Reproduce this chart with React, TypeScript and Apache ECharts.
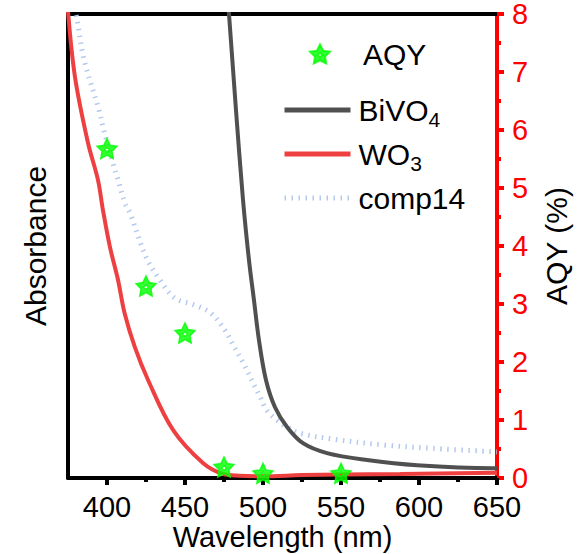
import React, { useEffect, useRef } from "react";
import * as echarts from "echarts";

// ---- Data ----
const bivoX = [477.5, 478.2, 482.7, 487.2, 491.0, 494.2, 497.4, 501.9, 507.7, 515.4, 525.6, 541.0, 566.7, 598.7, 647.4, 650];
const bivoY = [8.2, 8.0, 6.34, 4.79, 3.76, 3.07, 2.38, 1.69, 1.22, 0.88, 0.6, 0.43, 0.31, 0.22, 0.17, 0.17];

const wo3X = [375, 379.5, 387.8, 394.2, 397.4, 401.9, 407.1, 411.3, 417.8, 426.3, 442.3, 461.5, 474.4, 485, 500, 525, 550, 588, 650];
const wo3Y = [8.05, 6.91, 5.78, 5.14, 4.62, 3.98, 3.41, 2.84, 2.26, 1.69, 0.83, 0.26, 0.07, 0.04, 0.03, 0.05, 0.06, 0.07, 0.09];

const compX = [379, 380.8, 385.3, 394.9, 397.4, 403.8, 407.1, 411.5, 414.7, 425, 434, 443.6, 456.4, 466.7, 475.6, 481, 488.5, 494.9, 498.1, 502.4, 508.8, 515.2, 523.7, 545, 577, 609, 650];
const compY = [8.1, 7.9, 7.21, 6.34, 6.05, 5.43, 5.14, 4.74, 4.57, 3.81, 3.41, 3.1, 2.98, 2.84, 2.55, 2.29, 1.92, 1.57, 1.4, 1.17, 1.0, 0.88, 0.77, 0.67, 0.57, 0.51, 0.45];

const aqyX = [400, 425, 450, 475, 500, 550];
const aqyY = [5.68, 3.31, 2.5, 0.19, 0.08, 0.08];

const xMajorTicks = [400, 450, 500, 550, 600, 650];
const xMinorTicks = [425, 475, 525, 575, 625];

const FONT = "'Liberation Sans', Arial, sans-serif";

const STAR =
  "path://M0,-10L2.939,-4.045L9.511,-3.09L4.755,1.545L5.878,8.09L0,5L-5.878,8.09L-4.755,1.545L-9.511,-3.09L-2.939,-4.045Z" +
  "M0,-2.2L-2.2,0L0,2.2L2.2,0Z";

const pairs = (xs: number[], ys: number[]) => xs.map((x, i) => [x, ys[i]]);

export default function App() {
  const ref = useRef<HTMLDivElement>(null);
  useEffect(() => {
    document.body.style.margin = "0";
    if (!ref.current) return;
    const chart = echarts.init(ref.current, undefined, { renderer: "svg" });
    const legendText = {
      fontSize: 30,
      lineHeight: 44,
      color: "#000",
      fontFamily: FONT,
    };
    chart.setOption({
      animation: false,
      backgroundColor: "#fff",
      grid: { left: 68, right: 80, top: 14, bottom: 76, containLabel: false, outerBoundsMode: "none" },
      legend: [
        {
          data: ["AQY"],
          left: 309,
          top: 32,
          padding: 0,
          itemWidth: 20,
          itemHeight: 19,
          selectedMode: false,
          textStyle: { ...legendText, padding: [0, 0, 0, 28] },
        },
        {
          data: ["BiVO4", "WO3", "comp14"],
          orient: "vertical",
          left: 282,
          top: 88,
          padding: 0,
          itemWidth: 66,
          itemHeight: 14,
          itemGap: 0,
          selectedMode: false,
          itemStyle: { opacity: 0 },
          lineStyle: { width: 5 },
          formatter: (name: string) =>
            name === "BiVO4" ? "BiVO{s|4}" : name === "WO3" ? "WO{s|3}" : name,
          textStyle: {
            ...legendText,
            padding: [0, 0, 0, 3],
            rich: {
              s: {
                fontSize: 21,
                lineHeight: 21,
                verticalAlign: "top",
                padding: [21, 0, 0, 0],
                color: "#000",
                fontFamily: FONT,
              },
            },
          },
        },
      ],
      xAxis: [
        {
          type: "value",
          position: "bottom",
          min: 375,
          max: 650,
          interval: 25,
          name: "Wavelength (nm)",
          nameLocation: "middle",
          nameGap: 44,
          nameMoveOverlap: false,
          nameTextStyle: { fontSize: 29, lineHeight: 29, color: "#000", fontFamily: FONT },
          axisLine: { show: true, onZero: false, lineStyle: { color: "#000", width: 4 } },
          axisTick: { show: true, customValues: xMajorTicks, length: 7, lineStyle: { color: "#000", width: 4 } },
          axisLabel: { show: true, customValues: xMajorTicks, margin: 14, fontSize: 29, color: "#000", fontFamily: FONT },
          splitLine: { show: false },
        },
        {
          type: "value",
          position: "top",
          min: 375,
          max: 650,
          interval: 25,
          axisLine: { show: true, onZero: false, lineStyle: { color: "#000", width: 4 } },
          axisTick: { show: false },
          axisLabel: { show: false },
          splitLine: { show: false },
        },
        {
          type: "value",
          position: "bottom",
          min: 375,
          max: 650,
          interval: 25,
          axisLine: { show: false, onZero: false },
          axisTick: { show: true, customValues: xMinorTicks, length: 4, lineStyle: { color: "#000", width: 4 } },
          axisLabel: { show: false },
          splitLine: { show: false },
        },
      ],
      yAxis: [
        {
          type: "value",
          position: "left",
          min: 0,
          max: 8,
          interval: 1,
          name: "Absorbance",
          nameLocation: "middle",
          nameRotate: 90,
          nameGap: 18,
          nameMoveOverlap: false,
          nameTextStyle: { fontSize: 30, color: "#000", fontFamily: FONT },
          axisLine: { show: true, onZero: false, lineStyle: { color: "#000", width: 4 } },
          axisTick: { show: false },
          axisLabel: { show: false },
          splitLine: { show: false },
        },
        {
          type: "value",
          position: "right",
          min: 0,
          max: 8,
          interval: 1,
          name: "AQY (%)",
          nameLocation: "middle",
          nameRotate: 90,
          nameGap: 44,
          nameMoveOverlap: false,
          nameTextStyle: { fontSize: 30, color: "#000", fontFamily: FONT },
          axisLine: { show: true, onZero: false, lineStyle: { color: "#ff0000", width: 4 } },
          axisTick: { show: true, length: 7, lineStyle: { color: "#ff0000", width: 4 } },
          minorTick: { show: true, splitNumber: 2, length: 4, lineStyle: { color: "#ff0000", width: 4 } },
          axisLabel: { show: true, margin: 15, fontSize: 29, lineHeight: 26, color: "#ff0000", fontFamily: FONT },
          splitLine: { show: false },
          minorSplitLine: { show: false },
        },
      ],
      series: [
        {
          name: "comp14",
          type: "line",
          yAxisIndex: 0,
          data: pairs(compX, compY),
          symbol: "none",
          smooth: 0.35,
          color: "#b3caee",
          lineStyle: { color: "#b3caee", width: 5, type: [1.5, 5.5], cap: "butt" },
          z: 2,
        },
        {
          name: "BiVO4",
          type: "line",
          yAxisIndex: 0,
          data: pairs(bivoX, bivoY),
          symbol: "none",
          smooth: 0.35,
          color: "#505050",
          lineStyle: { color: "#505050", width: 4 },
          z: 3,
        },
        {
          name: "WO3",
          type: "line",
          yAxisIndex: 0,
          data: pairs(wo3X, wo3Y),
          symbol: "none",
          smooth: 0.35,
          color: "#ee4040",
          lineStyle: { color: "#ee4040", width: 4 },
          z: 4,
        },
        {
          name: "AQY",
          type: "scatter",
          yAxisIndex: 1,
          data: pairs(aqyX, aqyY),
          symbol: STAR,
          symbolSize: 20,
          itemStyle: { color: "#00ff00", borderColor: "#00ff00", borderWidth: 1.5 },
          z: 6,
        },
      ],
    });
    return () => chart.dispose();
  }, []);
  return <div ref={ref} style={{ width: 577, height: 554 }} />;
}
